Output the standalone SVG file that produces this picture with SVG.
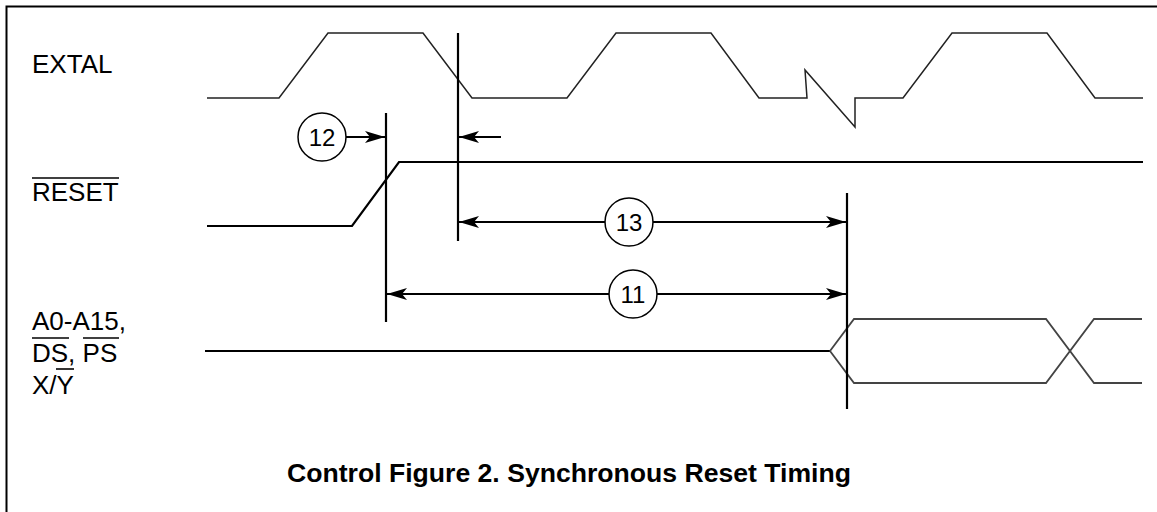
<svg xmlns="http://www.w3.org/2000/svg" width="1157" height="512" viewBox="0 0 1157 512">
<style>
text{font-family:"Liberation Sans",Arial,sans-serif;fill:#000}
.lbl{font-size:26px}
.num{font-size:24px;text-anchor:middle}
.cap{font-size:26.6px;font-weight:bold}
.wave{fill:none;stroke:#222;stroke-width:1.5;stroke-linejoin:miter}
.bold{fill:none;stroke:#000;stroke-width:2.2}
.bus{fill:none;stroke:#444;stroke-width:1.8}
.mark{stroke:#000;stroke-width:2.2}
.dim{stroke:#000;stroke-width:2.2;fill:none}
.circ{fill:#fff;stroke:#000;stroke-width:1.5}
.ov{stroke:#000;stroke-width:1.6}
</style>
<defs>
<marker id="ah" viewBox="0 0 20 12" refX="20" refY="6" markerWidth="20" markerHeight="12" markerUnits="userSpaceOnUse" orient="auto-start-reverse">
<path d="M0,0 L20,6 L0,12 L5,6 Z" fill="#000"/>
</marker>
</defs>
<rect width="1157" height="512" fill="#fff"/>
<path d="M6.5,512 V6.5 H1157" fill="none" stroke="#000" stroke-width="2"/>

<g id="labels">
<text class="lbl" x="32" y="73">EXTAL</text>
<text class="lbl" x="32" y="201">RESET</text>
<line class="ov" x1="32" y1="178" x2="119" y2="178"/>
<text class="lbl" x="32" y="330">A0-A15,</text>
<text class="lbl" x="32" y="362">DS, PS</text>
<line class="ov" x1="32" y1="338" x2="69" y2="338"/>
<line class="ov" x1="83" y1="338" x2="119" y2="338"/>
<text class="lbl" x="32" y="394">X/Y</text>
<line class="ov" x1="56" y1="369" x2="74" y2="369"/>
</g>

<g id="extal">
<path class="wave" d="M207,98 H279 L328,33 H423 L472,98 H567 L616,33 H711 L759,98 H807 L805,70 L855,127 V98 H903 L952,33 H1047 L1095,98 H1143"/>
</g>

<g id="reset">
<path class="bold" d="M207,226 H352 L399,162 H1143"/>
</g>

<g id="bus">
<path class="bold" d="M205,351 H830"/>
<path class="bus" d="M830,351 L854,319 H1046 L1094,383 H1142"/>
<path class="bus" d="M830,351 L854,383 H1046 L1094,319 H1142"/>
</g>

<g id="connectors">
<line class="mark" x1="386" y1="113" x2="386" y2="322"/>
<line class="mark" x1="458" y1="33" x2="458" y2="241"/>
<line class="mark" x1="847" y1="193" x2="847" y2="409"/>
<line class="dim" x1="346" y1="137" x2="385" y2="137" marker-end="url(#ah)"/>
<line class="dim" x1="501" y1="137" x2="459" y2="137" marker-end="url(#ah)"/>
<line class="dim" x1="459" y1="222" x2="846" y2="222" marker-start="url(#ah)" marker-end="url(#ah)"/>
<line class="dim" x1="387" y1="294" x2="846" y2="294" marker-start="url(#ah)" marker-end="url(#ah)"/>
</g>

<g id="n12">
<circle class="circ" cx="322" cy="137" r="24"/>
<text class="num" x="322" y="146">12</text>
</g>
<g id="n13">
<circle class="circ" cx="629" cy="222" r="24"/>
<text class="num" x="629" y="231">13</text>
</g>
<g id="n11">
<circle class="circ" cx="633" cy="294" r="24"/>
<text class="num" x="633" y="303">11</text>
</g>

<g id="caption">
<text class="cap" x="287" y="482">Control Figure 2. Synchronous Reset Timing</text>
</g>
</svg>
